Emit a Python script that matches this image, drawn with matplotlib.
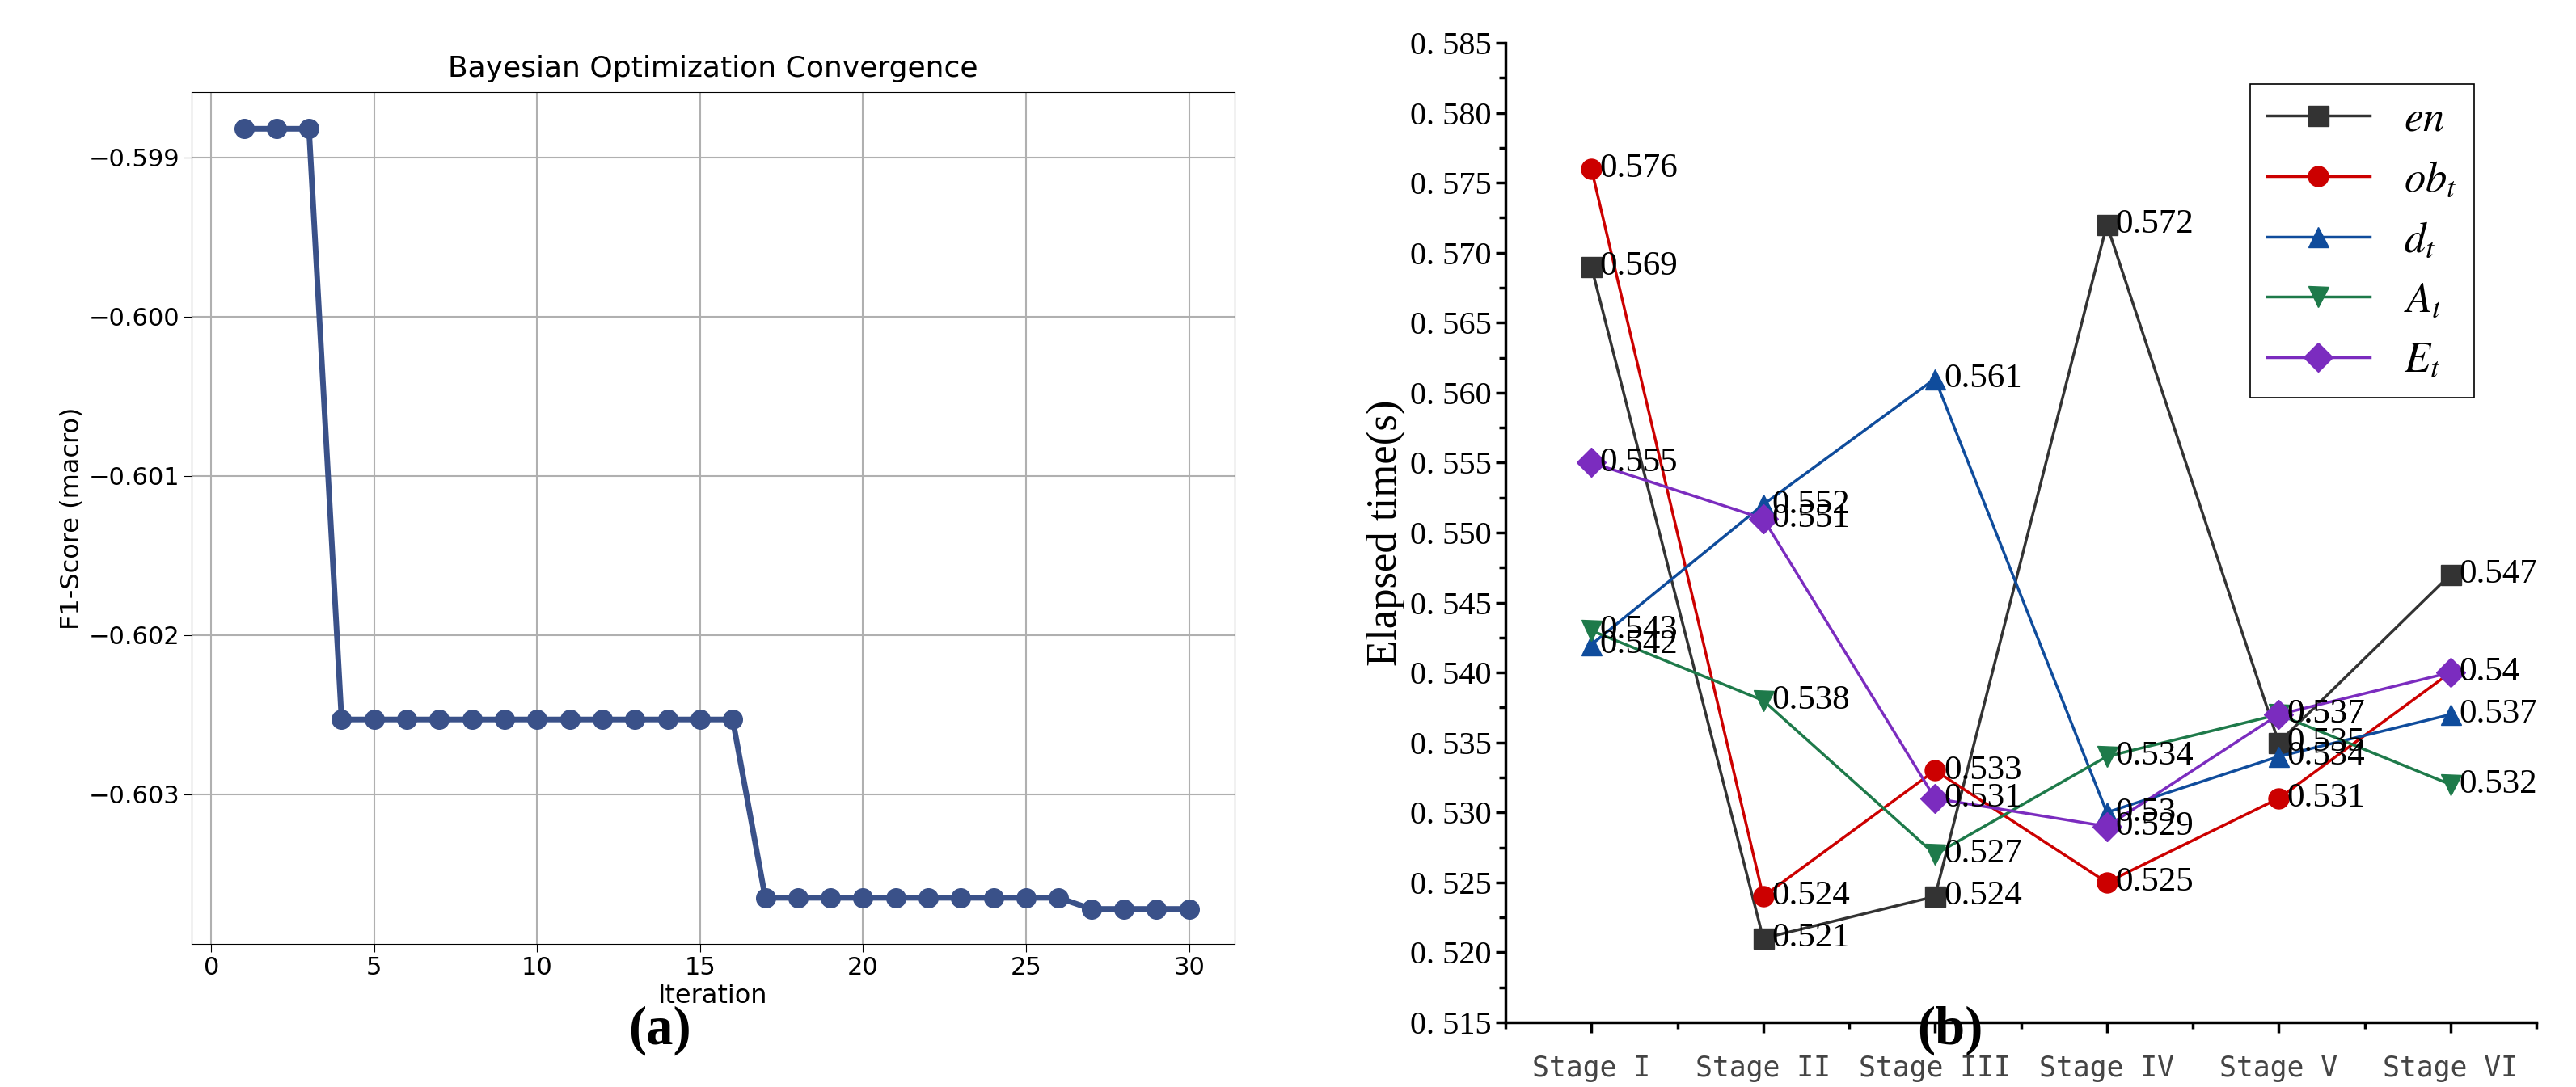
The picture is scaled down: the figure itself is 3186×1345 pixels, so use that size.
import matplotlib
matplotlib.use('Agg')
import matplotlib.pyplot as plt
from matplotlib.ticker import MultipleLocator, FixedLocator

plt.rcParams['mathtext.fontset'] = 'stix'

# left panel data
iterations = list(range(1, 31))
f1_scores = [-0.59882] * 3 + [-0.60253] * 13 + [-0.60365] * 10 + [-0.60372] * 4

# right panel data
stages = ['Stage I', 'Stage II', 'Stage III', 'Stage IV', 'Stage V', 'Stage VI']
en = [0.569, 0.521, 0.524, 0.572, 0.535, 0.547]
ob_t = [0.576, 0.524, 0.533, 0.525, 0.531, 0.540]
d_t = [0.542, 0.552, 0.561, 0.530, 0.534, 0.537]
A_t = [0.543, 0.538, 0.527, 0.534, 0.537, 0.532]
E_t = [0.555, 0.551, 0.531, 0.529, 0.537, 0.540]

fig = plt.figure(figsize=(31.86, 13.45), dpi=100)

# (a)
ax1 = fig.add_axes([237/3186, 1-1168/1345, 1290/3186, 1054/1345])
ax1.plot(iterations, f1_scores, '-o', color='#3a5189', lw=5, ms=17)
ax1.set_title('Bayesian Optimization Convergence', fontsize=26, pad=14)
ax1.set_xlabel('Iteration', fontsize=23)
ax1.set_ylabel('F1-Score (macro)', fontsize=23)
ax1.set_xticks([0, 5, 10, 15, 20, 25, 30])
ax1.set_yticks([-0.599, -0.600, -0.601, -0.602, -0.603])
ax1.set_xlim(-0.6, 31.4)
ax1.set_ylim(-0.60394, -0.59859)
ax1.tick_params(labelsize=22, length=7)
ax1.grid(True, color='#b0b0b0', lw=1.5)
fig.text(0.256, 0.04, '(a)', fontsize=48, fontweight='bold', family='Liberation Serif', ha='center')

# (b)
ax2 = fig.add_axes([1862/3186, 1-1265/1345, 1275/3186, 1212/1345])
x = list(range(len(stages)))
series = [
    (en, '#333333', 's', r'$en$'),
    (ob_t, '#cc0000', 'o', r'$ob_t$'),
    (d_t, '#0f4c9c', '^', r'$d_t$'),
    (A_t, '#1e7a4a', 'v', r'$A_t$'),
    (E_t, '#7b2cbf', 'D', r'$E_t$'),
]
for vals, c, m, lab in series:
    ax2.plot(x, vals, color=c, marker=m, ms=18, lw=2.5, label=lab)
    for xi, v in zip(x, vals):
        ax2.text(xi + 0.05, v, '%g' % v, fontsize=31, family='Liberation Serif',
                 va='center', ha='left')
ax2.set_xlim(-0.5, 5.5)
ax2.set_ylim(0.515, 0.585)
ax2.yaxis.set_major_locator(MultipleLocator(0.005))
ax2.yaxis.set_minor_locator(MultipleLocator(0.0025))
ax2.set_yticks(ax2.get_yticks())
ax2.set_yticklabels(['0. %03d' % round(t * 1000) for t in ax2.get_yticks()])
ax2.set_ylim(0.515, 0.585)
ax2.set_xticks(x)
ax2.set_xticklabels(stages, family='DejaVu Sans Mono', fontsize=25, color='#444444')
ax2.xaxis.set_minor_locator(FixedLocator([i + 0.5 for i in range(-1, 6)]))
ax2.tick_params(axis='y', labelsize=29, width=2.5, length=9)
ax2.tick_params(axis='x', width=2.5, length=9, pad=20)
ax2.tick_params(which='minor', width=2.5, length=6)
for lbl in ax2.get_yticklabels():
    lbl.set_family('Liberation Serif')
ax2.spines['top'].set_visible(False)
ax2.spines['right'].set_visible(False)
ax2.spines['left'].set_linewidth(2.5)
ax2.spines['bottom'].set_linewidth(2.5)
ax2.set_ylabel('Elapsed time(s)', fontsize=38, family='Liberation Serif')
leg = ax2.legend(loc='upper right', bbox_to_anchor=(0.96, 0.98),
                 handlelength=2.4, fancybox=False, edgecolor='black', framealpha=1,
                 prop={'family': 'Liberation Serif', 'size': 38})
leg.get_frame().set_linewidth(1.2)
fig.text(0.757, 0.04, '(b)', fontsize=48, fontweight='bold', family='Liberation Serif', ha='center')

fig.savefig('out.png', dpi=100)
